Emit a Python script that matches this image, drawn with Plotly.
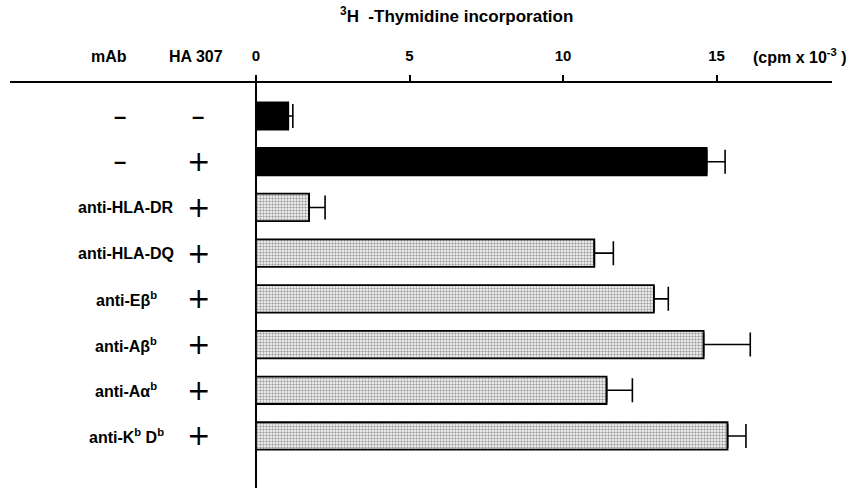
import plotly.graph_objects as go

# ---- data ----
mab_labels = ["−", "−", "anti-HLA-DR", "anti-HLA-DQ", "anti-Eβ<sup>b</sup>",
              "anti-Aβ<sup>b</sup>", "anti-Aα<sup>b</sup>", "anti-K<sup>b</sup> D<sup>b</sup>"]
ha307_signs = ["−", "+", "+", "+", "+", "+", "+", "+"]
values = [1.05, 14.68, 1.73, 11.02, 12.96, 14.58, 11.42, 15.36]
errors = [0.15, 0.60, 0.52, 0.62, 0.47, 1.52, 0.84, 0.60]
tick_vals = [0, 5, 10, 15]
tick_text = ["0", "5", "10", "15"]

W, H = 862, 488
ML, MR, MT, MB = 10, 30, 83, 0
X0_PX = 256.0
PX_PER_UNIT = 30.7
xr = [-(X0_PX - ML) / PX_PER_UNIT, (W - MR - X0_PX) / PX_PER_UNIT]

def px2x(px):
    return (px - X0_PX) / PX_PER_UNIT

def py2paper(py):
    return 1 + (MT - py) / (H - MT - MB)

n = len(values)
ys = list(range(n))
row_px = 45.7
yr = [n - 1 + (H - 436) / row_px, -(116 - MT) / row_px]

colors = ["black", "black"] + ["white"] * (n - 2)
shapes_pat = ["", ""] + ["."] * (n - 2)

fig = go.Figure()
fig.add_trace(go.Bar(
    x=values, y=ys, orientation="h", width=0.6,
    marker=dict(color=colors, line=dict(color="black", width=1.8),
                pattern=dict(shape=shapes_pat, fgcolor="#222222", bgcolor="white",
                             size=3, solidity=0.5, fillmode="overlay")),
    error_x=dict(type="data", array=errors, arrayminus=[0] * n, symmetric=False,
                 color="black", thickness=1.6, width=12),
    showlegend=False, hoverinfo="skip",
))

FAM = "Liberation Sans, Arial, sans-serif"
font_b = dict(family=FAM, color="black")
annotations = []
for i in range(n):
    lab = mab_labels[i]
    if lab == "−":
        annotations.append(dict(x=px2x(120), y=i, xref="x", yref="y", text="<b>–</b>",
                                showarrow=False, yanchor="middle", font=dict(size=22, **font_b)))
    else:
        annotations.append(dict(x=px2x(126), y=i, xref="x", yref="y", text="<b>" + lab + "</b>",
                                showarrow=False, yanchor="middle", font=dict(size=16, **font_b)))
    s = ha307_signs[i]
    if s == "+":
        annotations.append(dict(x=px2x(198), y=i, xref="x", yref="y", text="+",
                                showarrow=False, yanchor="middle",
                                font=dict(size=28, family="DejaVu Sans, sans-serif", color="black")))
    else:
        annotations.append(dict(x=px2x(198), y=i, xref="x", yref="y", text="<b>–</b>",
                                showarrow=False, yanchor="middle", font=dict(size=22, **font_b)))

# headers
annotations += [
    dict(x=px2x(109), y=py2paper(57), xref="x", yref="paper", yanchor="middle",
         text="<b>mAb</b>", showarrow=False, font=dict(size=16, **font_b)),
    dict(x=px2x(196), y=py2paper(57), xref="x", yref="paper", yanchor="middle",
         text="<b>HA 307</b>", showarrow=False, font=dict(size=16, **font_b)),
    dict(x=px2x(800), y=py2paper(56), xref="x", yref="paper", yanchor="middle",
         text="<b>(cpm x 10<sup>-3</sup> )</b>", showarrow=False, font=dict(size=16, **font_b)),
    dict(x=px2x(456), y=py2paper(15), xref="x", yref="paper", yanchor="middle",
         text="<b><sup>3</sup>H  -Thymidine incorporation</b>", showarrow=False, font=dict(size=17, **font_b)),
]

fig.update_layout(
    width=W, height=H, margin=dict(l=ML, r=MR, t=MT, b=MB, pad=0, autoexpand=False),
    plot_bgcolor="white", paper_bgcolor="white",
    annotations=annotations, bargap=0.4,
    xaxis=dict(range=xr, side="top", tickvals=tick_vals, ticktext=tick_text,
               ticks="outside", ticklen=6, tickwidth=1.6, tickcolor="black",
               showline=True, linecolor="black", linewidth=1.8,
               showgrid=False, zeroline=True, zerolinecolor="black", zerolinewidth=2,
               tickfont=dict(size=15, family=FAM, color="black", weight="bold"),
               ticklabelstandoff=8, automargin=False),
    yaxis=dict(range=yr, showticklabels=False, showgrid=False, zeroline=False,
               showline=False, ticks="", automargin=False),
)

fig.write_html("out.html", config={"displayModeBar": False},
               post_script="document.body.style.margin='0';document.body.style.padding='0';")
